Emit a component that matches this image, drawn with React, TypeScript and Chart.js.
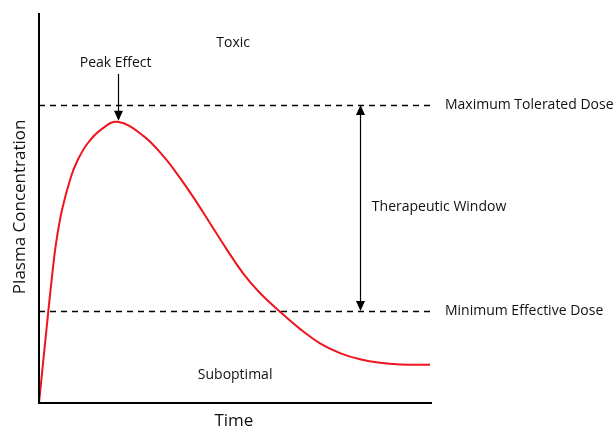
import React, { useEffect, useRef } from "react";
import { Chart, registerables } from "chart.js";

Chart.register(...registerables);

// Time (arbitrary units) and plasma concentration (arbitrary units)
const timePoints = [0, 2.4, 3.31, 4.33, 5.85, 8.14, 9.85, 12.39, 15.78, 20.03, 26.54, 31.63, 35.04, 39.26, 43.51, 47.76, 51.98, 56.23, 61.32, 66.4, 71.5, 76.6, 81.7, 86.8, 91.9, 99.5];
const concentration = [0, 23.8, 32.4, 40.9, 49.5, 58.0, 62.3, 66.6, 70.1, 72.1, 68.5, 63.3, 58.9, 52.8, 46.1, 39.4, 33.2, 28.2, 23.4, 19.0, 15.3, 12.8, 11.2, 10.3, 9.9, 9.8];

const maxToleratedDose = 76.4;
const minEffectiveDose = 23.6;
const thresholdEnd = 99.5;
const peakTime = 20.03;
const peakConcentration = 72.1;
const windowArrowTime = 81.7;

const axisTitles = { x: "Time", y: "Plasma Concentration" };
const thresholdLabels = ["Maximum Tolerated Dose", "Minimum Effective Dose"];
const zoneLabels = ["Toxic", "Therapeutic Window", "Suboptimal"];
const peakLabel = "Peak Effect";

const FONT = "'Open Sans', 'DejaVu Sans', sans-serif";

function arrowHead(ctx: CanvasRenderingContext2D, x: number, y: number, dir: number) {
  // dir = 1 pointing down, -1 pointing up; (x,y) is the tip
  const w = 4.5;
  const h = 10;
  ctx.beginPath();
  ctx.moveTo(x, y);
  ctx.lineTo(x - w, y - dir * h);
  ctx.lineTo(x + w, y - dir * h);
  ctx.closePath();
  ctx.fill();
}

const annotationPlugin = {
  id: "pkAnnotations",
  beforeDatasetsDraw(chart: any) {
    const { ctx, scales } = chart;
    const xs = scales.x;
    const ys = scales.y;
    ctx.save();
    ctx.strokeStyle = "#000";
    ctx.lineWidth = 1.6;
    ctx.setLineDash([6, 5]);
    [maxToleratedDose, minEffectiveDose].forEach((v) => {
      const y = Math.round(ys.getPixelForValue(v)) + 0.5;
      ctx.beginPath();
      ctx.moveTo(xs.getPixelForValue(0), y);
      ctx.lineTo(xs.getPixelForValue(thresholdEnd), y);
      ctx.stroke();
    });
    ctx.setLineDash([]);
    ctx.restore();
  },
  afterDatasetsDraw(chart: any) {
    const { ctx, chartArea, scales } = chart;
    const xs = scales.x;
    const ys = scales.y;
    ctx.save();
    // axes
    ctx.strokeStyle = "#000";
    ctx.lineWidth = 2;
    ctx.beginPath();
    ctx.moveTo(chartArea.left, chartArea.top);
    ctx.lineTo(chartArea.left, chartArea.bottom);
    ctx.lineTo(chartArea.right, chartArea.bottom);
    ctx.stroke();

    // therapeutic window double arrow
    ctx.fillStyle = "#000";
    ctx.lineWidth = 1.2;
    const ax = Math.round(xs.getPixelForValue(windowArrowTime)) + 0.5;
    const yTop = ys.getPixelForValue(maxToleratedDose);
    const yBot = ys.getPixelForValue(minEffectiveDose);
    ctx.beginPath();
    ctx.moveTo(ax, yTop + 8);
    ctx.lineTo(ax, yBot - 8);
    ctx.stroke();
    arrowHead(ctx, ax, yTop, -1);
    arrowHead(ctx, ax, yBot, 1);

    // peak effect arrow
    const px = Math.round(xs.getPixelForValue(peakTime)) + 0.5;
    const pTip = ys.getPixelForValue(peakConcentration) - 1;
    const pStart = ys.getPixelForValue(84.4);
    ctx.beginPath();
    ctx.moveTo(px, pStart);
    ctx.lineTo(px, pTip - 8);
    ctx.stroke();
    arrowHead(ctx, px, pTip, 1);

    // texts
    ctx.fillStyle = "#111";
    ctx.textBaseline = "middle";
    ctx.font = `14px ${FONT}`;
    ctx.textAlign = "center";
    ctx.fillText(zoneLabels[0], xs.getPixelForValue(49.4), ys.getPixelForValue(92.3));
    ctx.fillText(peakLabel, xs.getPixelForValue(19.5), ys.getPixelForValue(87.2));
    ctx.fillText(zoneLabels[2], xs.getPixelForValue(49.9), ys.getPixelForValue(7.2));
    ctx.textAlign = "left";
    ctx.fillText(zoneLabels[1], xs.getPixelForValue(84.7), ys.getPixelForValue(50.3));
    ctx.fillText(thresholdLabels[0], xs.getPixelForValue(103.3), ys.getPixelForValue(maxToleratedDose));
    ctx.fillText(thresholdLabels[1], xs.getPixelForValue(103.3), ys.getPixelForValue(minEffectiveDose));

    // axis titles
    ctx.font = `17px ${FONT}`;
    ctx.textAlign = "center";
    ctx.fillText(axisTitles.x, xs.getPixelForValue(49.6), chartArea.bottom + 18);
    ctx.save();
    ctx.translate(chartArea.left - 19, ys.getPixelForValue(50.3));
    ctx.rotate(-Math.PI / 2);
    ctx.fillText(axisTitles.y, 0, 0);
    ctx.restore();
    ctx.restore();
  },
};

export default function App() {
  const ref = useRef<HTMLCanvasElement>(null);
  useEffect(() => {
    if (!ref.current) return;
    const chart = new Chart(ref.current, {
      type: "line",
      data: {
        datasets: [
          {
            data: timePoints.map((t, i) => ({ x: t, y: concentration[i] })),
            borderColor: "#f0141e",
            borderWidth: 2,
            pointRadius: 0,
            fill: false,
            tension: 0.4,
          },
        ],
      },
      options: {
        responsive: false,
        animation: false,
        layout: { padding: { left: 39, right: 183, top: 13, bottom: 24 } },
        plugins: { legend: { display: false }, tooltip: { enabled: false } },
        scales: {
          x: { type: "linear", min: 0, max: 100, display: false },
          y: { type: "linear", min: 0, max: 100, display: false },
        },
      },
      plugins: [annotationPlugin],
    });
    return () => chart.destroy();
  }, []);
  return (
    <div style={{ position: "absolute", left: 0, top: 0, width: 615, height: 427, background: "#fff" }}>
      <canvas ref={ref} width={615} height={427} style={{ display: "block" }} />
    </div>
  );
}
